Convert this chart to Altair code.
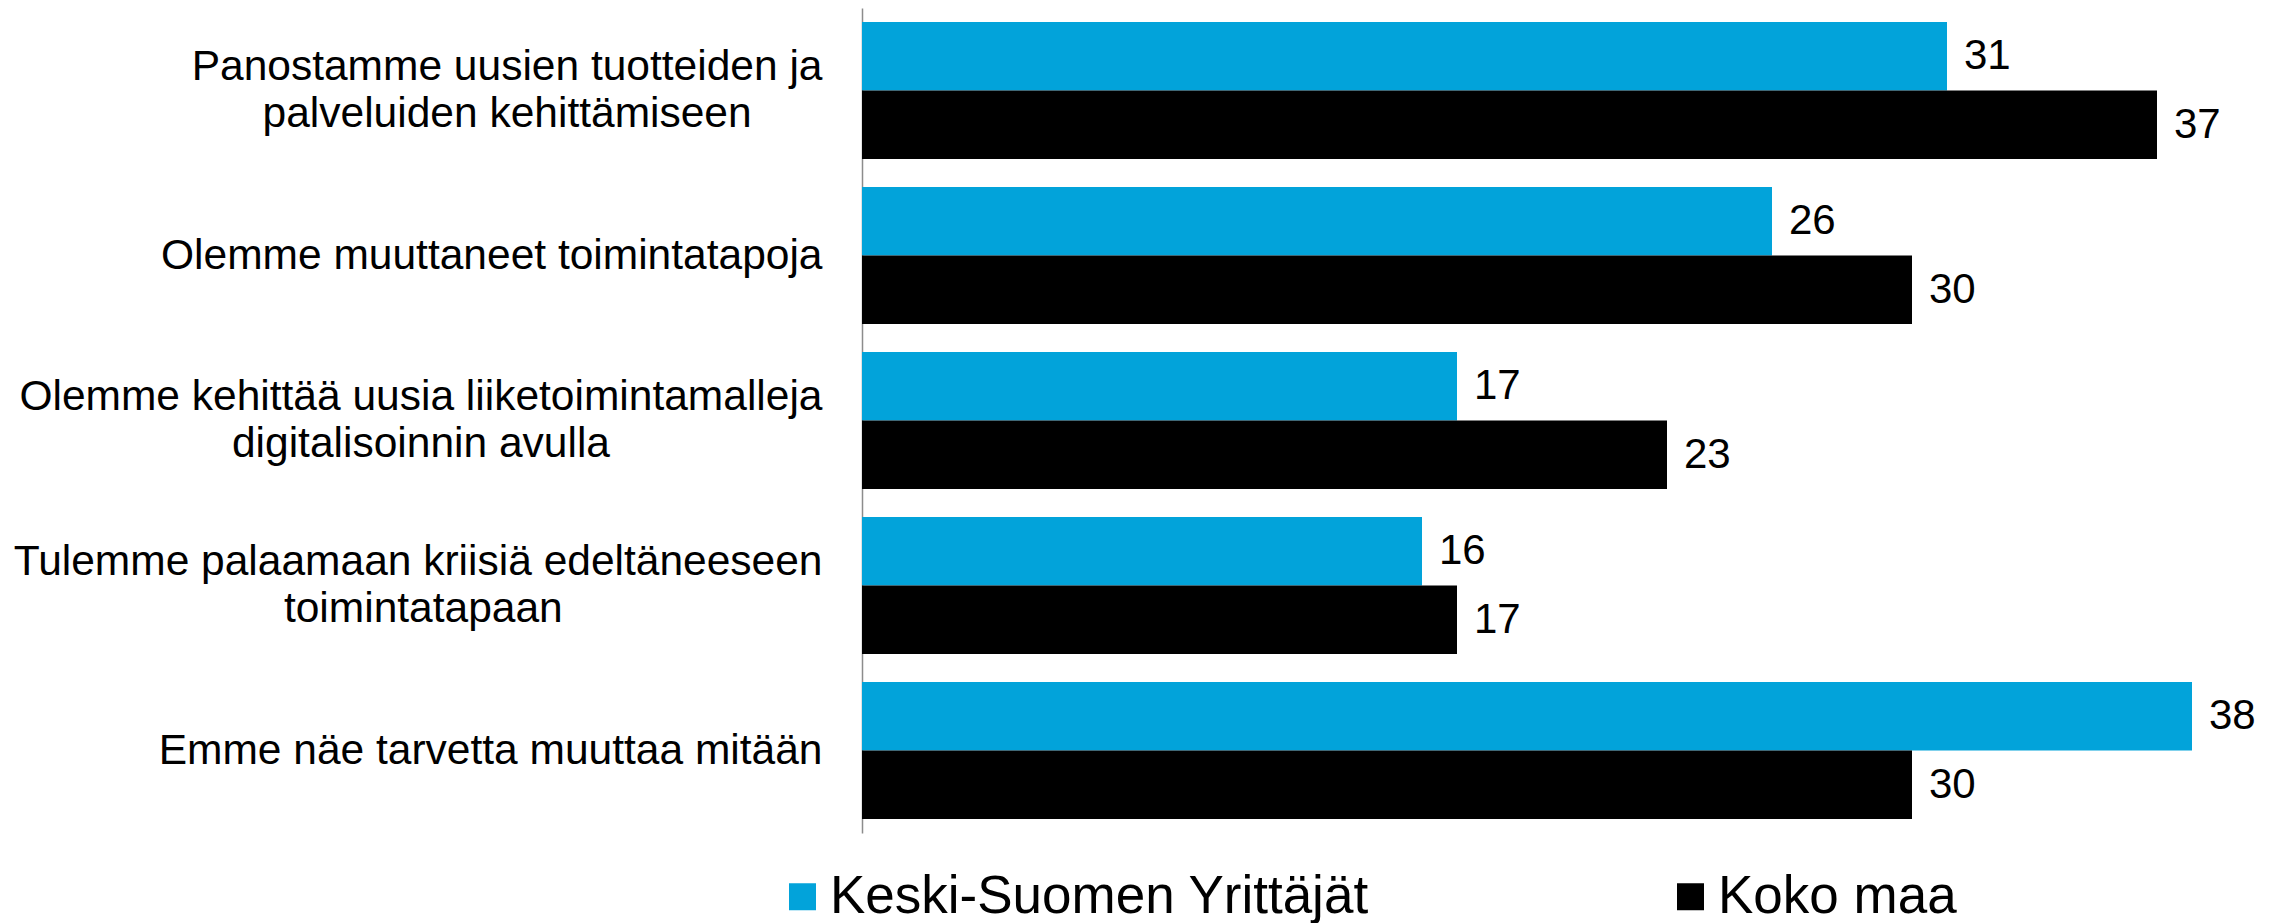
import altair as alt
import pandas as pd

# ---- data ----
categories = [
    ["Panostamme uusien tuotteiden ja", "palveluiden kehittämiseen"],
    ["Olemme muuttaneet toimintatapoja"],
    ["Olemme kehittää uusia liiketoimintamalleja", "digitalisoinnin avulla"],
    ["Tulemme palaamaan kriisiä edeltäneeseen", "toimintatapaan"],
    ["Emme näe tarvetta muuttaa mitään"],
]
series = ["Keski-Suomen Yrittäjät", "Koko maa"]
keski_suomi = [31, 26, 17, 16, 38]
koko_maa = [37, 30, 23, 17, 30]
colors = ["#02A3DA", "#000000"]

FONT = "Liberation Sans"
LABEL_FS = 42.5
LINE_H = 47

# Arial / Liberation Sans advance widths (1/1000 em), used to centre the
# second line of a label under the first one (block is right aligned).
W = {' ': 278, 'a': 556, 'b': 556, 'c': 500, 'd': 556, 'e': 556, 'f': 278,
     'g': 556, 'h': 556, 'i': 222, 'j': 222, 'k': 500, 'l': 222, 'm': 833,
     'n': 556, 'o': 556, 'p': 556, 'r': 333, 's': 500, 't': 278, 'u': 556,
     'v': 500, 'ä': 556, 'P': 667, 'O': 778, 'T': 611, 'E': 667}


def text_w(s):
    return sum(W.get(c, 556) for c in s)


def make_label(lines):
    if len(lines) == 1:
        return lines[0]
    first, second = lines
    pad = round((text_w(first) - text_w(second)) / 2 / 278)
    # no-break spaces keep the (right aligned) second line centred under the
    # first; a zero-width space stops them from being trimmed away
    return first + "|" + second + "\u00a0" * pad + "\u200b"


labels = [make_label(l) for l in categories]

rows = []
for lab, a, b in zip(labels, keski_suomi, koko_maa):
    rows.append({"cat": lab, "series": series[0], "value": a})
    rows.append({"cat": lab, "series": series[1], "value": b})
df = pd.DataFrame(rows)

base = alt.Chart(df).encode(
    y=alt.Y(
        "cat:N",
        sort=labels,
        scale=alt.Scale(paddingInner=0.17, paddingOuter=0.085),
        axis=alt.Axis(
            title=None,
            ticks=False,
            labelExpr="split(datum.label, '|')",
            labelFont=FONT,
            labelFontSize=LABEL_FS,
            labelLineHeight=LINE_H,
            labelColor="#000000",
            labelPadding=40,
            labelLimit=2000,
            labelAlign="right",
            labelOffset={
                "condition": {"test": "indexof(datum.value, '|') >= 0",
                              "value": -LINE_H / 2},
                "value": 0,
            },
            domainColor="#8c8c8c",
            domainWidth=1.5,
            grid=False,
        ),
    ),
    yOffset=alt.YOffset("series:N", sort=series,
                        scale=alt.Scale(paddingInner=0, paddingOuter=0)),
    x=alt.X("value:Q", axis=None,
            scale=alt.Scale(domain=[0, 39.6], nice=False, zero=True)),
)

bars = base.mark_bar().encode(
    color=alt.Color(
        "series:N",
        sort=series,
        scale=alt.Scale(domain=series, range=colors),
        legend=alt.Legend(
            title=None,
            orient="none",
            direction="horizontal",
            legendX=-86,
            legendY=862,
            symbolType="square",
            symbolSize=729,
            symbolStrokeWidth=0,
            labelFont=FONT,
            labelFontSize=53,
            labelColor="#000000",
            labelOffset=1,
            labelLimit=2000,
            columnPadding=294,
            padding=0,
        ),
    )
)

text = base.mark_text(
    align="left", baseline="middle", dx=17, font=FONT, fontSize=42,
    color="#000000"
).encode(text=alt.Text("value:Q", format="d"))

chart = (
    alt.layer(bars, text)
    .properties(width=1386, height=825,
                autosize=alt.AutoSizeParams(type="none"),
                padding={"left": 854, "top": 0, "right": 14, "bottom": 100})
    .configure(font=FONT)
    .configure_view(stroke=None)
)

chart.save("out.html", embed_options={"renderer": "svg", "actions": False})
